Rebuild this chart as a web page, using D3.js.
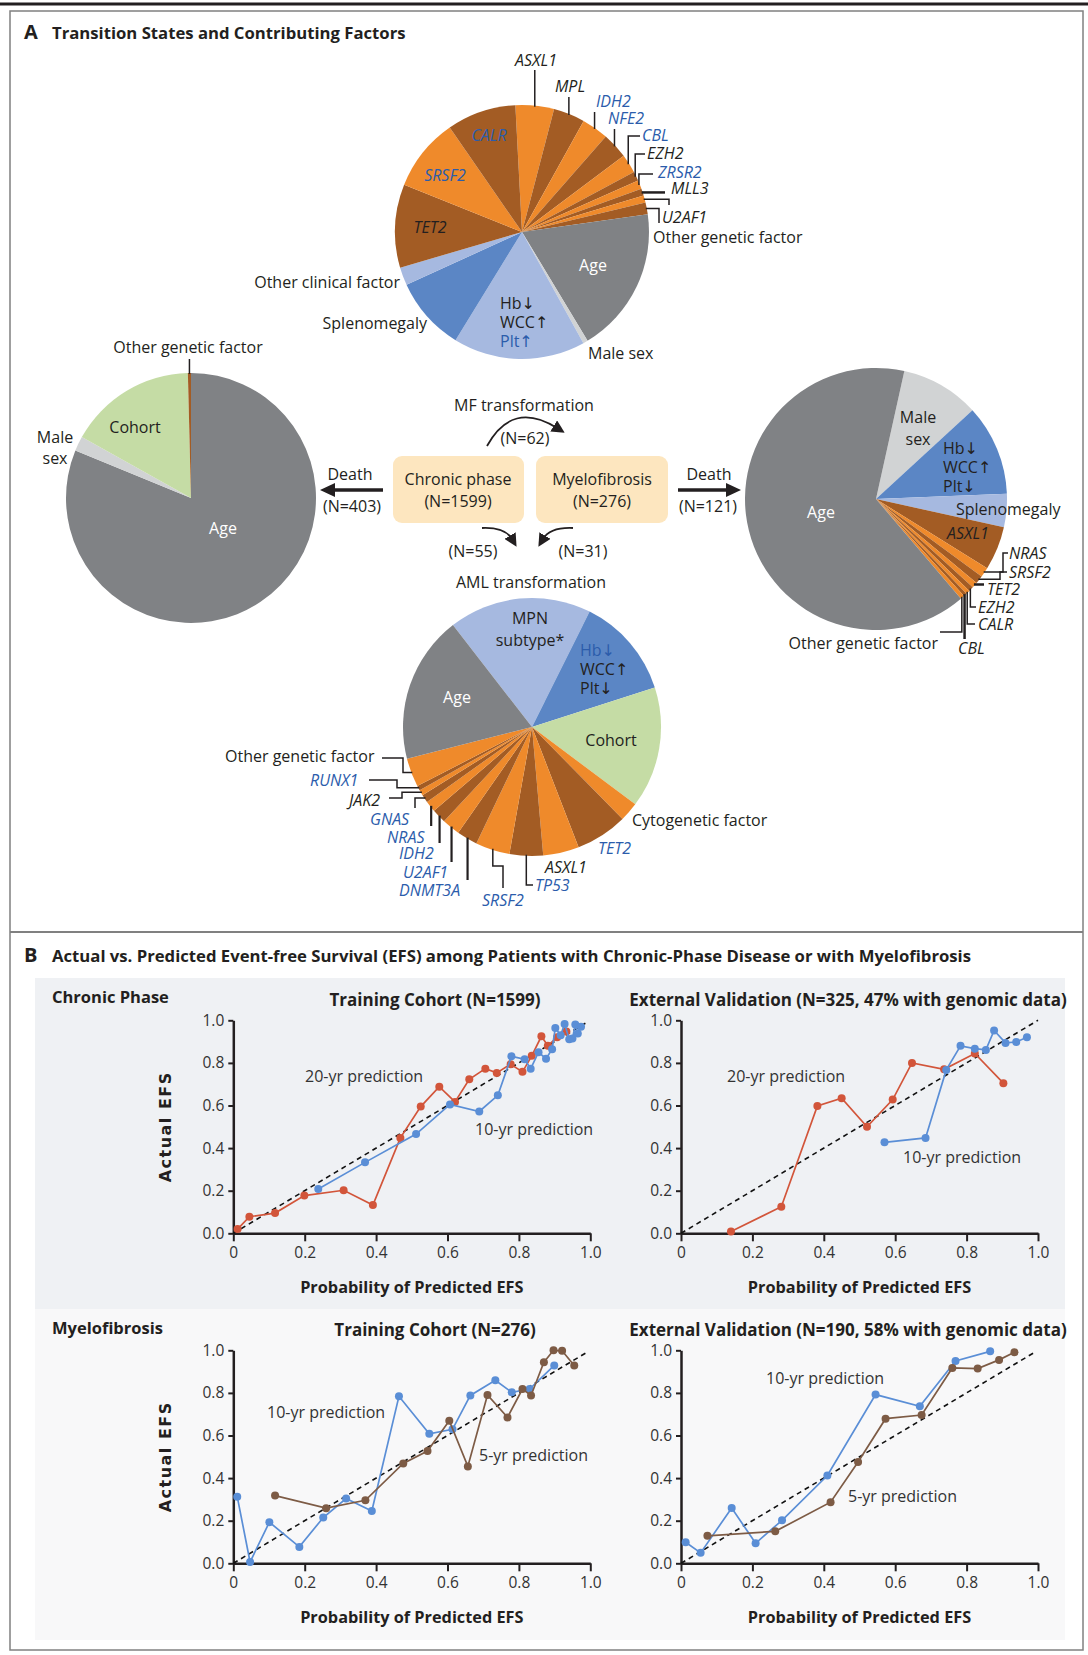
<!DOCTYPE html>
<html><head><meta charset="utf-8">
<script src="https://cdn.jsdelivr.net/npm/d3@7"></script>
<style>
body{margin:0;background:#fff;}
svg{display:block;font-family:"Open Sans","Noto Sans","DejaVu Sans",sans-serif;}
</style></head><body>
<svg id="chart" width="1088" height="1655"></svg>
<script>
// ---------------- DATA ----------------
// MF transformation (top pie)
const mfNames = ["ASXL1","MPL","IDH2","NFE2","CBL","EZH2","ZRSR2","MLL3","U2AF1","Other genetic factor","Age","Male sex","Hb↓ WCC↑ Plt↑","Splenomegaly","Other clinical factor","TET2","SRSF2","CALR"];
const mfShares = [4.9,4.0,3.4,3.3,2.4,1.2,1.1,0.9,0.9,1.5,18.6,0.6,16.8,9.4,2.3,10.6,9.3,8.8];
const mfKinds = ["orange","brown","orange","brown","orange","brown","orange","brown","orange","brown","age","sex","blueLight","blueDark","blueLight","brown","orange","brown"];
// Death from chronic phase (left pie)
const cpDeathNames = ["Age","Male sex","Cohort","Other genetic factor"];
const cpDeathShares = [81.2,1.9,16.5,0.4];
const cpDeathKinds = ["age","sex","cohort","brown"];
// Death from myelofibrosis (right pie)
const mfDeathNames = ["Male sex","Hb↓ WCC↑ Plt↓","Splenomegaly","ASXL1","NRAS","SRSF2","TET2","EZH2","CALR","CBL","Other genetic factor","Age"];
const mfDeathShares = [9.7,11.2,4.1,5.4,1.2,1.0,0.7,0.6,0.5,0.4,0.5,64.7];
const mfDeathKinds = ["sex","blueDark","blueLight","brown","orange","brown","orange","brown","orange","brown","orange","age"];
// AML transformation (bottom pie)
const amlNames = ["MPN subtype*","Hb↓ WCC↑ Plt↓","Cohort","Cytogenetic factor","TET2","ASXL1","TP53","SRSF2","DNMT3A","U2AF1","IDH2","NRAS","GNAS","JAK2","RUNX1","Other genetic factor","Age"];
const amlShares = [17.9,12.7,15.2,2.4,6.5,4.5,4.2,4.3,2.6,2.25,1.8,1.4,1.0,0.7,0.6,3.6,18.5];
const amlKinds = ["blueLight","blueDark","cohort","orange","brown","orange","brown","orange","brown","orange","brown","orange","brown","orange","brown","orange","age"];

// Calibration: chronic phase, training cohort
const cpTrain20Pred = [0.012,0.045,0.117,0.199,0.309,0.391,0.468,0.525,0.577,0.621,0.661,0.706,0.738,0.777,0.810,0.836,0.863,0.881,0.907,0.933];
const cpTrain20Act  = [0.020,0.078,0.095,0.177,0.202,0.133,0.448,0.595,0.688,0.617,0.723,0.773,0.753,0.794,0.758,0.833,0.925,0.881,0.920,0.948];
const cpTrain10Pred = [0.238,0.369,0.512,0.607,0.689,0.741,0.779,0.816,0.833,0.855,0.876,0.893,0.902,0.917,0.928,0.941,0.950,0.958,0.965,0.974];
const cpTrain10Act  = [0.208,0.333,0.466,0.605,0.572,0.648,0.831,0.817,0.773,0.850,0.820,0.864,0.964,0.930,0.983,0.911,0.914,0.980,0.938,0.970];
// chronic phase, external validation
const cpExt20Pred = [0.140,0.281,0.382,0.450,0.521,0.593,0.647,0.737,0.823,0.903];
const cpExt20Act  = [0.008,0.125,0.598,0.634,0.500,0.628,0.800,0.770,0.844,0.705];
const cpExt10Pred = [0.570,0.685,0.743,0.783,0.823,0.854,0.877,0.909,0.939,0.969];
const cpExt10Act  = [0.427,0.448,0.767,0.880,0.867,0.861,0.952,0.894,0.898,0.920];
// myelofibrosis, training cohort
const mfTrain10Pred = [0.011,0.047,0.101,0.185,0.252,0.316,0.388,0.464,0.549,0.614,0.664,0.734,0.780,0.830,0.899];
const mfTrain10Act  = [0.313,0.006,0.193,0.077,0.215,0.304,0.246,0.784,0.608,0.629,0.788,0.859,0.803,0.818,0.929];
const mfTrain5Pred  = [0.117,0.260,0.370,0.476,0.544,0.605,0.657,0.712,0.768,0.810,0.834,0.870,0.897,0.921,0.955];
const mfTrain5Act   = [0.318,0.259,0.296,0.469,0.527,0.669,0.455,0.790,0.685,0.818,0.788,0.944,1.000,0.998,0.929];
// myelofibrosis, external validation
const mfExt10Pred = [0.013,0.055,0.142,0.209,0.283,0.410,0.545,0.669,0.769,0.866];
const mfExt10Act  = [0.099,0.049,0.260,0.094,0.202,0.412,0.792,0.737,0.950,0.995];
const mfExt5Pred  = [0.074,0.264,0.419,0.496,0.573,0.674,0.760,0.831,0.891,0.934];
const mfExt5Act   = [0.129,0.150,0.287,0.476,0.679,0.696,0.917,0.914,0.955,0.991];

const axisTicks = [0,0.2,0.4,0.6,0.8,1.0];

// ---------------- STYLE ----------------
const COL = {orange:"#ef8a2b", brown:"#a35c24", age:"#808285", sex:"#d1d3d4",
             blueDark:"#5b86c5", blueLight:"#a6b9e0", cohort:"#c5dca5"};
const DARK="#231f20", BLUE="#2b5cab", WHITE="#ffffff", TXT="#333333";
const SER = {red:"#d2553a", blue:"#5a8ed6", brown:"#7d5b45"};

const svg = d3.select("#chart");

// frame
svg.append("line").attr("x1",0).attr("x2",1088).attr("y1",4).attr("y2",4).attr("stroke","#231f20").attr("stroke-width",3);
svg.append("rect").attr("x",10).attr("y",11).attr("width",1073).attr("height",1639)
  .attr("fill","none").attr("stroke","#808080").attr("stroke-width",1.5);
svg.append("line").attr("x1",10).attr("x2",1083).attr("y1",932).attr("y2",932).attr("stroke","#808080").attr("stroke-width",2);

// section titles
function sectionTitle(letter, text, y){
  svg.append("text").attr("x",24).attr("y",y).attr("font-size",20).attr("font-weight",700).attr("fill",DARK).text(letter);
  svg.append("text").attr("x",52).attr("y",y).attr("font-size",16.7).attr("font-weight",700).attr("fill",DARK).text(text);
}
sectionTitle("A","Transition States and Contributing Factors",39);
sectionTitle("B","Actual vs. Predicted Event-free Survival (EFS) among Patients with Chronic-Phase Disease or with Myelofibrosis",962);

// ---------------- PIES ----------------
function drawPie(cfg){
  const rad = Math.PI/180;
  const data = cfg.names.map((n,i)=>({n, v:cfg.values[i], k:cfg.kinds[i]}));
  const pie = d3.pie().sort(null).value(d=>d.v)
      .startAngle(cfg.start*rad).endAngle(cfg.start*rad+2*Math.PI);
  const arcs = pie(data);
  const arc = d3.arc().innerRadius(0).outerRadius(cfg.r);
  const g = svg.append("g").attr("transform",`translate(${cfg.cx},${cfg.cy})`);
  g.selectAll("path").data(arcs).join("path").attr("d",arc).attr("fill",d=>COL[d.data.k]);

  cfg.labels.forEach(L=>{
    const a = arcs.find(d=>d.data.n===L.name);
    if (L.lead){
      const m = (a.startAngle+a.endAngle)/2;
      let px = cfg.cx + (cfg.r-1)*Math.sin(m), py = cfg.cy - (cfg.r-1)*Math.cos(m);
      const pts = [[px,py]];
      L.lead.forEach(p=>{ px = p[0]==null?px:p[0]; py = p[1]==null?py:p[1]; pts.push([px,py]); });
      svg.append("path").attr("d",d3.line()(pts)).attr("fill","none")
        .attr("stroke",DARK).attr("stroke-width",L.lw||1.5);
    }
    const lines = L.split ? a.data.n.split(" ") : [a.data.n];
    lines.forEach((t,i)=>{
      svg.append("text").attr("x",L.x).attr("y",L.y+i*(L.lh||20))
        .attr("text-anchor",L.anchor||"start")
        .attr("font-size",L.fs||16)
        .attr("font-style",L.it?"italic":null)
        .attr("fill",(L.colors&&L.colors[i])||L.color||DARK)
        .text(t);
    });
  });
}

// top pie: MF transformation
drawPie({cx:522, cy:232, r:127, start:-3, names:mfNames, values:mfShares, kinds:mfKinds, labels:[
  {name:"ASXL1", x:536, y:66, anchor:"middle", it:1, lead:[[null,70]]},
  {name:"MPL", x:570, y:92, anchor:"middle", it:1, lead:[[null,97]]},
  {name:"IDH2", x:596, y:107, it:1, color:BLUE, lead:[[null,112]]},
  {name:"NFE2", x:608, y:124, it:1, color:BLUE, lead:[[null,129]]},
  {name:"CBL", x:642, y:141, it:1, color:BLUE, lead:[[null,136],[640,null]]},
  {name:"EZH2", x:647, y:159, it:1, lead:[[null,154],[645,null]]},
  {name:"ZRSR2", x:658, y:178, it:1, color:BLUE, lead:[[null,174],[653,null]]},
  {name:"MLL3", x:671, y:194, it:1, lead:[[665,null]], lw:2.5},
  {name:"U2AF1", x:662, y:223, it:1, lead:[[669,null],[null,205]]},
  {name:"Other genetic factor", x:653, y:243, lead:[[659,null],[null,223]]},
  {name:"Age", x:593, y:271, anchor:"middle", color:WHITE},
  {name:"Male sex", x:588, y:359},
  {name:"Hb↓ WCC↑ Plt↑", x:500, y:309, split:1, lh:19, colors:[DARK,DARK,BLUE]},
  {name:"Splenomegaly", x:427, y:329, anchor:"end"},
  {name:"Other clinical factor", x:400, y:288, anchor:"end"},
  {name:"TET2", x:430, y:233, anchor:"middle", it:1},
  {name:"SRSF2", x:445, y:181, anchor:"middle", it:1, color:BLUE},
  {name:"CALR", x:489, y:141, anchor:"middle", it:1, color:BLUE}
]});

// left pie: death from chronic phase
drawPie({cx:191, cy:498, r:125, start:0, names:cpDeathNames, values:cpDeathShares, kinds:cpDeathKinds, labels:[
  {name:"Age", x:223, y:534, anchor:"middle", color:WHITE},
  {name:"Cohort", x:135, y:433, anchor:"middle"},
  {name:"Male sex", x:55, y:443, anchor:"middle", split:1, lh:21},
  {name:"Other genetic factor", x:188, y:353, anchor:"middle", lead:[[null,359]]}
]});

// right pie: death from myelofibrosis
drawPie({cx:876, cy:499, r:131, start:12.5, names:mfDeathNames, values:mfDeathShares, kinds:mfDeathKinds, labels:[
  {name:"Age", x:821, y:518, anchor:"middle", color:WHITE},
  {name:"Male sex", x:918, y:423, anchor:"middle", split:1, lh:22},
  {name:"Hb↓ WCC↑ Plt↓", x:943, y:454, split:1, lh:19},
  {name:"Splenomegaly", x:956, y:515},
  {name:"ASXL1", x:947, y:539, it:1},
  {name:"NRAS", x:1009, y:559, it:1, lead:[[1003,null],[null,553],[1008,null]]},
  {name:"SRSF2", x:1009, y:578, it:1, lead:[[1000,null],[null,572],[1007,null]]},
  {name:"TET2", x:987, y:595, it:1, lead:[[984,null]], lw:2.5},
  {name:"EZH2", x:978, y:613, it:1, lead:[[null,607],[976,null]]},
  {name:"CALR", x:978, y:630, it:1, lead:[[null,624],[975,null]]},
  {name:"CBL", x:958, y:654, it:1, lead:[[null,639]], lw:2.5},
  {name:"Other genetic factor", x:938, y:649, anchor:"end", lead:[[null,632],[940,null]]}
]});

// bottom pie: AML transformation
drawPie({cx:532, cy:727, r:129, start:-37.8, names:amlNames, values:amlShares, kinds:amlKinds, labels:[
  {name:"MPN subtype*", x:530, y:624, anchor:"middle", split:1, lh:22},
  {name:"Hb↓ WCC↑ Plt↓", x:580, y:656, split:1, lh:19, colors:[BLUE,DARK,DARK]},
  {name:"Age", x:457, y:703, anchor:"middle", color:WHITE},
  {name:"Cohort", x:611, y:746, anchor:"middle"},
  {name:"Cytogenetic factor", x:632, y:826},
  {name:"TET2", x:598, y:854, it:1, color:BLUE},
  {name:"ASXL1", x:545, y:873, it:1},
  {name:"TP53", x:535, y:891, it:1, color:BLUE, lead:[[null,885],[533,null]]},
  {name:"SRSF2", x:482, y:906, it:1, color:BLUE, lead:[[null,866],[503,null],[null,888]]},
  {name:"DNMT3A", x:399, y:896, it:1, color:BLUE, lead:[[null,880]], lw:2.2},
  {name:"U2AF1", x:403, y:878, it:1, color:BLUE, lead:[[null,862]], lw:2.2},
  {name:"IDH2", x:399, y:859, it:1, color:BLUE, lead:[[null,843]], lw:2.2},
  {name:"NRAS", x:387, y:843, it:1, color:BLUE, lead:[[null,826]], lw:2.2},
  {name:"GNAS", x:370, y:825, it:1, color:BLUE, lead:[[415,null],[null,808]]},
  {name:"JAK2", x:349, y:806, it:1, lead:[[402,null],[null,798],[389,null]]},
  {name:"RUNX1", x:310, y:786, it:1, color:BLUE, lead:[[397,null],[null,780],[369,null]]},
  {name:"Other genetic factor", x:225, y:762, lead:[[403,null],[null,758],[382,null]]}
]});

// ---------------- CENTRAL STATES ----------------
const defs = svg.append("defs");
defs.append("marker").attr("id","ah").attr("viewBox","0 0 10 10").attr("refX",3).attr("refY",5)
  .attr("markerWidth",13).attr("markerHeight",13).attr("markerUnits","userSpaceOnUse").attr("orient","auto")
  .append("path").attr("d","M0,0 L10,5 L0,10 z").attr("fill",DARK);

function ctext(t,x,y,anchor){
  svg.append("text").attr("x",x).attr("y",y).attr("text-anchor",anchor||"middle")
     .attr("font-size",16).attr("fill",DARK).text(t);
}
svg.append("rect").attr("x",393).attr("y",456).attr("width",131).attr("height",67).attr("rx",9).attr("fill","#fde6bf");
svg.append("rect").attr("x",536).attr("y",456).attr("width",132).attr("height",67).attr("rx",9).attr("fill","#fde6bf");
ctext("Chronic phase",458,485); ctext("(N=1599)",458,507);
ctext("Myelofibrosis",602,485); ctext("(N=276)",602,507);
ctext("MF transformation",524,411);
ctext("(N=62)",525,444);
ctext("AML transformation",531,588);
ctext("(N=55)",473,557); ctext("(N=31)",583,557);
ctext("Death",350,480); ctext("(N=403)",352,512);
ctext("Death",709,480); ctext("(N=121)",708,512);

// straight arrows
svg.append("line").attr("x1",383).attr("x2",332).attr("y1",490).attr("y2",490).attr("stroke",DARK).attr("stroke-width",3.5);
svg.append("path").attr("d","M320,490 L335,483 L335,497 Z").attr("fill",DARK);
svg.append("line").attr("x1",678).attr("x2",729).attr("y1",490).attr("y2",490).attr("stroke",DARK).attr("stroke-width",3.5);
svg.append("path").attr("d","M741,490 L726,483 L726,497 Z").attr("fill",DARK);
// curved arrows
svg.append("path").attr("d","M487,446 Q512,400 557,428").attr("fill","none").attr("stroke",DARK).attr("stroke-width",1.8).attr("marker-end","url(#ah)");
svg.append("path").attr("d","M482,528 Q505,527 512,539").attr("fill","none").attr("stroke",DARK).attr("stroke-width",1.8).attr("marker-end","url(#ah)");
svg.append("path").attr("d","M573,528 Q550,527 543,539").attr("fill","none").attr("stroke",DARK).attr("stroke-width",1.8).attr("marker-end","url(#ah)");

// ---------------- PANEL B ----------------
svg.append("rect").attr("x",35).attr("y",978).attr("width",1030).attr("height",331).attr("fill","#eff1f4");
svg.append("rect").attr("x",35).attr("y",1309).attr("width",1030).attr("height",331).attr("fill","#f8f8f9");
svg.append("text").attr("x",52).attr("y",1003).attr("font-size",16.5).attr("font-weight",700).attr("fill",DARK).text("Chronic Phase");
svg.append("text").attr("x",52).attr("y",1334).attr("font-size",16.5).attr("font-weight",700).attr("fill",DARK).text("Myelofibrosis");

function drawCal(cfg){
  const x = d3.scaleLinear().domain([0,1]).range([cfg.x0, cfg.x0+357]);
  const y = d3.scaleLinear().domain([0,1]).range([cfg.y0, cfg.y0-213]);
  const g = svg.append("g");
  // title
  g.append("text").attr("x",cfg.titleX).attr("y",cfg.y0-227).attr("text-anchor","middle")
    .attr("font-size",17).attr("font-weight",700).attr("fill",DARK).text(cfg.title);
  // axes
  const ax = g.append("g").attr("transform",`translate(0,${cfg.y0})`)
    .call(d3.axisBottom(x).tickValues(axisTicks).tickSize(8).tickSizeOuter(0).tickPadding(6)
      .tickFormat(d=>d===0?"0":d3.format(".1f")(d)));
  const ay = g.append("g").attr("transform",`translate(${cfg.x0},0)`)
    .call(d3.axisLeft(y).tickValues(axisTicks).tickSize(5).tickSizeOuter(0).tickPadding(4).tickFormat(d3.format(".1f")));
  [ax,ay].forEach(a=>{
    a.select(".domain").attr("stroke",DARK).attr("stroke-width",2.5);
    a.selectAll(".tick line").attr("stroke",DARK).attr("stroke-width",2);
    a.selectAll(".tick text").attr("font-size",15.5).attr("fill",TXT).attr("font-family","'Open Sans','Noto Sans',sans-serif");
  });
  g.append("text").attr("x",cfg.x0+178.5).attr("y",cfg.y0+60).attr("text-anchor","middle")
    .attr("font-size",16.3).attr("font-weight",700).attr("fill",DARK).text("Probability of Predicted EFS");
  if (cfg.yLabel){
    g.append("text").attr("transform",`translate(171,${cfg.y0-106.5}) rotate(-90)`).attr("text-anchor","middle")
      .attr("font-size",16).attr("font-weight",700).attr("letter-spacing",1.5).attr("fill",DARK)
      .attr("font-family","'DejaVu Sans','Liberation Sans',sans-serif").text("Actual EFS");
  }
  // diagonal
  g.append("line").attr("x1",x(0)).attr("y1",y(0)).attr("x2",x(cfg.diag)).attr("y2",y(cfg.diag))
    .attr("stroke","#111").attr("stroke-width",1.6).attr("stroke-dasharray","5,4");
  // series
  cfg.series.forEach(s=>{
    const pts = s.px.map((v,i)=>[v, s.py[i]]);
    g.append("path").attr("d",d3.line().x(d=>x(d[0])).y(d=>y(d[1]))(pts))
      .attr("fill","none").attr("stroke",SER[s.c]).attr("stroke-width",1.7);
    g.selectAll(null).data(pts).join("circle").attr("cx",d=>x(d[0])).attr("cy",d=>y(d[1]))
      .attr("r",4).attr("fill",SER[s.c]);
  });
  cfg.labels.forEach(L=>{
    g.append("text").attr("x",L.x).attr("y",L.y).attr("font-size",16).attr("fill",TXT).text(L.t);
  });
}

drawCal({x0:233.3, y0:1233.3, title:"Training Cohort (N=1599)", titleX:435, yLabel:true, diag:0.99,
  series:[{px:cpTrain20Pred, py:cpTrain20Act, c:"red"},{px:cpTrain10Pred, py:cpTrain10Act, c:"blue"}],
  labels:[{t:"20-yr prediction", x:305, y:1082},{t:"10-yr prediction", x:475, y:1135}]});
drawCal({x0:681, y0:1233.3, title:"External Validation (N=325, 47% with genomic data)", titleX:848, yLabel:false, diag:1.0,
  series:[{px:cpExt20Pred, py:cpExt20Act, c:"red"},{px:cpExt10Pred, py:cpExt10Act, c:"blue"}],
  labels:[{t:"20-yr prediction", x:727, y:1082},{t:"10-yr prediction", x:903, y:1163}]});
drawCal({x0:233.3, y0:1563.3, title:"Training Cohort (N=276)", titleX:435, yLabel:true, diag:0.99,
  series:[{px:mfTrain10Pred, py:mfTrain10Act, c:"blue"},{px:mfTrain5Pred, py:mfTrain5Act, c:"brown"}],
  labels:[{t:"10-yr prediction", x:267, y:1418},{t:"5-yr prediction", x:479, y:1461}]});
drawCal({x0:681, y0:1563.3, title:"External Validation (N=190, 58% with genomic data)", titleX:848, yLabel:false, diag:0.99,
  series:[{px:mfExt10Pred, py:mfExt10Act, c:"blue"},{px:mfExt5Pred, py:mfExt5Act, c:"brown"}],
  labels:[{t:"10-yr prediction", x:766, y:1384},{t:"5-yr prediction", x:848, y:1502}]});
</script>
</body></html>
